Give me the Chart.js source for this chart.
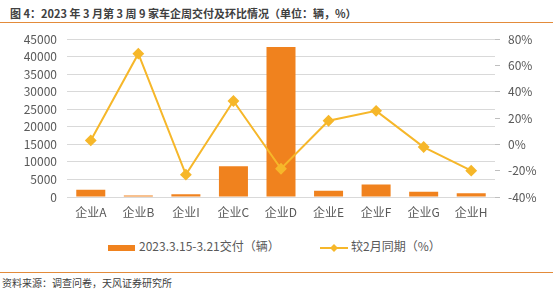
<!DOCTYPE html>
<html lang="zh">
<head>
<meta charset="UTF-8" />
<title>车企周交付</title>
<script src="https://cdn.jsdelivr.net/npm/chart.js@4"></script>
<style>
  body { margin: 0; width: 553px; height: 292px; background: #fff; position: relative; overflow: hidden;
         font-family: "Noto Sans CJK SC", sans-serif; }
  #title { position: absolute; left: 10px; top: 5px; font-size: 11px; font-weight: bold; color: #404040; }
  #topline { position: absolute; left: 0; top: 22px; width: 553px; height: 1px; background: #E38B3A; }
  #wrap { position: absolute; left: 0; top: 22px; width: 553px; height: 206px; }
  #legend { position: absolute; top: 237px; left: 0; width: 553px; font-size: 12px; color: #595959; }
  .lg { position: absolute; top: 0; white-space: nowrap; }
  #botline { position: absolute; left: 0; top: 272px; width: 553px; height: 1px; background: #E38B3A; }
  #source { position: absolute; left: 2px; top: 275px; font-size: 10px; color: #404040; }
</style>
</head>
<body>
<div id="title">图 4：2023 年 3 月第 3 周 9 家车企周交付及环比情况（单位：辆，%）</div>
<div id="topline"></div>
<div id="wrap"><canvas id="myChart"></canvas></div>
<div id="legend">
  <div class="lg" style="left:108px"><span style="display:inline-block;width:27px;height:6px;background:#F0821E;vertical-align:middle;margin-right:4px"></span><span id="lab1"></span></div>
  <div class="lg" style="left:320px"><canvas id="lgLine" width="28" height="12" style="vertical-align:middle;margin-right:3px"></canvas><span id="lab2"></span></div>
</div>
<div id="botline"></div>
<div id="source">资料来源：调查问卷，天风证券研究所</div>

<script>
  // 数据
  var companies = ['企业A', '企业B', '企业I', '企业C', '企业D', '企业E', '企业F', '企业G', '企业H'];
  var deliveries = [2100, 400, 750, 8800, 42800, 1800, 3600, 1500, 1050];
  var momChange = [3, 69, -23, 33, -18.5, 18, 25.5, -2, -20];
  var barLabel = '2023.3.15-3.21交付（辆）';
  var lineLabel = '较2月同期（%）';

  var barColor = '#F0821E';
  var lineColor = '#F6B72A';
  var txt = '#595959';
  var fnt = { family: '"Noto Sans CJK SC", sans-serif', size: 12 };

  document.getElementById('lab1').textContent = barLabel;
  document.getElementById('lab2').textContent = lineLabel;

  // 图例里的折线小图标
  var lc = document.getElementById('lgLine').getContext('2d');
  lc.strokeStyle = lineColor; lc.lineWidth = 2;
  lc.beginPath(); lc.moveTo(0, 6); lc.lineTo(28, 6); lc.stroke();
  lc.fillStyle = lineColor;
  lc.beginPath(); lc.moveTo(14, 2); lc.lineTo(18, 6); lc.lineTo(14, 10); lc.lineTo(10, 6); lc.closePath(); lc.fill();

  var ctx = document.getElementById('myChart').getContext('2d');
  new Chart(ctx, {
    data: {
      labels: companies,
      datasets: [
        {
          type: 'line',
          label: lineLabel,
          data: momChange,
          yAxisID: 'y1',
          borderColor: lineColor,
          backgroundColor: lineColor,
          borderWidth: 2,
          pointStyle: 'rectRot',
          pointRadius: 4.5,
          pointHoverRadius: 4.5,
          tension: 0
        },
        {
          type: 'bar',
          label: barLabel,
          data: deliveries,
          yAxisID: 'y',
          backgroundColor: barColor,
          barPercentage: 0.61,
          categoryPercentage: 1
        }
      ]
    },
    options: {
      responsive: true,
      maintainAspectRatio: false,
      animation: false,
      layout: { padding: { top: 13, bottom: 0, left: 0, right: 0 } },
      plugins: { legend: { display: false }, tooltip: { enabled: false } },
      scales: {
        x: {
          grid: { display: false, drawTicks: false },
          border: { display: false },
          ticks: { color: txt, font: fnt, padding: 8 },
          afterFit: function (s) { s.height = 31; }
        },
        y: {
          position: 'left',
          min: 0, max: 45000,
          ticks: { stepSize: 5000, autoSkip: false, color: txt, font: fnt, padding: 10,
                   callback: function (v) { return String(v); } },
          grid: { color: '#D9D9D9', drawTicks: false },
          border: { display: false },
          afterFit: function (s) { s.width = 67; }
        },
        y1: {
          position: 'right',
          min: -40, max: 80,
          ticks: { stepSize: 20, autoSkip: false, color: txt, font: fnt, padding: 8,
                   callback: function (v) { return v + '%'; } },
          grid: { drawOnChartArea: false, drawTicks: true, tickLength: 5, color: '#BFBFBF' },
          border: { display: false },
          afterFit: function (s) { s.width = 58; }
        }
      }
    }
  });
</script>
</body>
</html>
